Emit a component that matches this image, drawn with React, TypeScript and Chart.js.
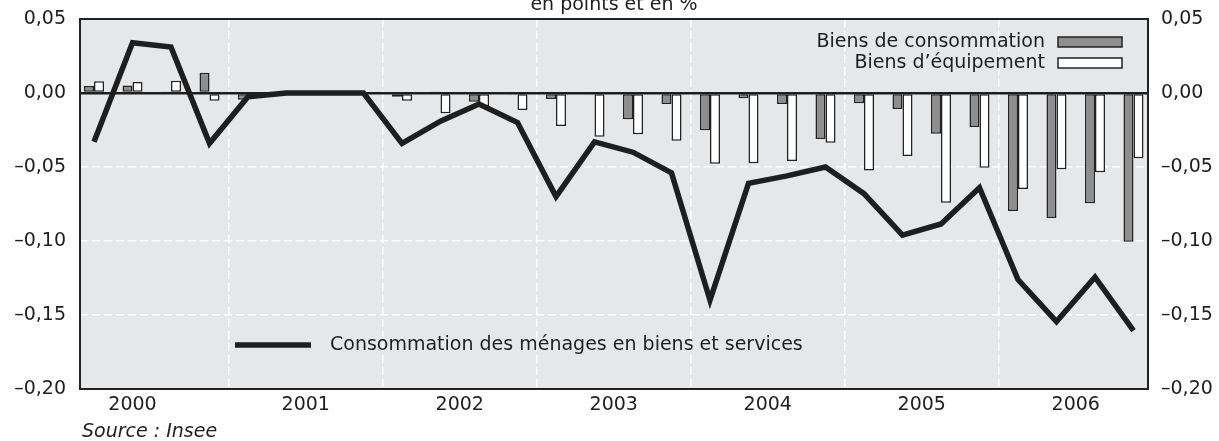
import React, { useEffect, useRef } from "react";
import { Chart, registerables } from "chart.js";

Chart.register(...registerables);

// ---------- data ----------
const quarters = [
  "2000T1", "2000T2", "2000T3", "2000T4",
  "2001T1", "2001T2", "2001T3", "2001T4",
  "2002T1", "2002T2", "2002T3", "2002T4",
  "2003T1", "2003T2", "2003T3", "2003T4",
  "2004T1", "2004T2", "2004T3", "2004T4",
  "2005T1", "2005T2", "2005T3", "2005T4",
  "2006T1", "2006T2", "2006T3", "2006T4",
];

const biensConsommation = [
  0.0047, 0.005, 0.001, 0.0137,
  -0.0045, 0, 0, 0,
  -0.0025, 0.001, -0.0059, -0.001,
  -0.004, -0.001, -0.0178, -0.0074,
  -0.0252, -0.0036, -0.0074, -0.031,
  -0.007, -0.0108, -0.0275, -0.023,
  -0.0797, -0.0845, -0.0745, -0.1005,
];

const biensEquipement = [
  0.0079, 0.0074, 0.0083, -0.0052,
  -0.003, 0, 0, 0,
  -0.0052, -0.0137, -0.0092, -0.0115,
  -0.0223, -0.0295, -0.0279, -0.0322,
  -0.0478, -0.0475, -0.046, -0.0336,
  -0.0523, -0.0426, -0.0741, -0.0505,
  -0.0649, -0.0516, -0.0536, -0.0441,
];

const consommationMenages = [
  -0.033, 0.034, 0.031, -0.034,
  -0.0025, 0, 0, 0,
  -0.034, -0.019, -0.0075, -0.02,
  -0.07, -0.033, -0.04, -0.054,
  -0.14, -0.061, -0.056, -0.05,
  -0.068, -0.096, -0.0885, -0.064,
  -0.126, -0.1545, -0.1245, -0.1606,
];

const yearLabels = ["2000", "2001", "2002", "2003", "2004", "2005", "2006"];
const yearLabelPositions = [1, 5.5, 9.5, 13.5, 17.5, 21.5, 25.5];
const yearBoundaries = [3.5, 7.5, 11.5, 15.5, 19.5, 23.5];

const seriesLabels = [
  "Biens de consommation",
  "Biens d\u2019\u00e9quipement",
  "Consommation des m\u00e9nages en biens et services",
];
const titleText = "en points et en %";
const sourceText = "Source : Insee";

// ---------- styles ----------
const FONT = '"DejaVu Sans", "Liberation Sans", sans-serif';
const FS = 19;
const TEXT = "#1e1e1e";
const GRAY = "#8e8e8e";
const BG = "#e6e7e9";

const fmt = (v: number) => {
  const r = Math.round(v * 100) / 100;
  const s = Math.abs(r).toFixed(2).replace(".", ",");
  return r < -1e-9 ? "\u2013" + s : s;
};

const decorPlugin = {
  id: "decor",
  beforeDraw(chart: any) {
    const { ctx, chartArea: a } = chart;
    ctx.save();
    ctx.fillStyle = "#fff";
    ctx.fillRect(0, 0, chart.width, chart.height);
    ctx.fillStyle = BG;
    ctx.fillRect(a.left, a.top, a.right - a.left, a.bottom - a.top);
    ctx.restore();
  },
  afterDatasetsDraw(chart: any) {
    const { ctx, chartArea: a } = chart;
    ctx.save();
    // frame
    ctx.strokeStyle = "#222";
    ctx.lineWidth = 2;
    ctx.strokeRect(a.left, a.top, a.right - a.left, a.bottom - a.top);

    // legend (bars)
    ctx.font = `${FS}px ${FONT}`;
    ctx.fillStyle = TEXT;
    ctx.textAlign = "right";
    ctx.textBaseline = "middle";
    ctx.fillText(seriesLabels[0], 1045, 42);
    ctx.fillText(seriesLabels[1], 1045, 63);
    ctx.lineWidth = 1.5;
    ctx.strokeStyle = "#222";
    ctx.fillStyle = GRAY;
    ctx.fillRect(1058, 37, 64, 10);
    ctx.strokeRect(1058, 37, 64, 10);
    ctx.fillStyle = "#fff";
    ctx.fillRect(1058, 58, 64, 10);
    ctx.strokeRect(1058, 58, 64, 10);

    // legend (line)
    ctx.strokeStyle = "#1e1e1e";
    ctx.lineWidth = 5.5;
    ctx.beginPath();
    ctx.moveTo(235, 345);
    ctx.lineTo(311, 345);
    ctx.stroke();
    ctx.fillStyle = TEXT;
    ctx.textAlign = "left";
    ctx.fillText(seriesLabels[2], 330, 345);
    ctx.restore();
  },
  afterDraw(chart: any) {
    const { ctx } = chart;
    ctx.save();
    ctx.fillStyle = TEXT;
    ctx.font = `${FS}px ${FONT}`;
    ctx.textAlign = "center";
    ctx.textBaseline = "alphabetic";
    ctx.fillText(titleText, 614, 10);
    ctx.font = `italic ${FS}px ${FONT}`;
    ctx.textAlign = "left";
    ctx.fillText(sourceText, 82, 437);
    ctx.restore();
  },
};

export default function App() {
  const ref = useRef<HTMLCanvasElement | null>(null);

  useEffect(() => {
    if (!ref.current) return;
    const xs = quarters.map((_, i) => i);
    const chart = new Chart(ref.current, {
      type: "bar",
      data: {
        datasets: [
          {
            type: "line",
            label: seriesLabels[2],
            data: xs.map((x, i) => ({ x, y: consommationMenages[i] })),
            borderColor: "#1e1e1e",
            borderWidth: 5.5,
            pointRadius: 0,
            tension: 0,
            borderJoinStyle: "miter",
            order: 0,
          } as any,
          {
            type: "bar",
            label: seriesLabels[0],
            data: xs.map((x, i) => ({ x, y: biensConsommation[i] })),
            backgroundColor: GRAY,
            borderColor: "#222",
            borderWidth: 1.5,
            borderSkipped: false,
            categoryPercentage: 0.52,
            barPercentage: 1,
            order: 1,
          } as any,
          {
            type: "bar",
            label: seriesLabels[1],
            data: xs.map((x, i) => ({ x, y: biensEquipement[i] })),
            backgroundColor: "#ffffff",
            borderColor: "#222",
            borderWidth: 1.5,
            borderSkipped: false,
            categoryPercentage: 0.52,
            barPercentage: 1,
            order: 1,
          } as any,
        ],
      },
      options: {
        animation: false,
        responsive: true,
        maintainAspectRatio: false,
        devicePixelRatio: 1,
        layout: { padding: { top: 19, left: 0, right: 0, bottom: 0 } },
        plugins: {
          legend: { display: false },
          tooltip: { enabled: false },
          title: { display: false },
        },
        scales: {
          x: {
            type: "linear",
            position: "bottom",
            offset: false,
            min: -0.364,
            max: 27.377,
            afterBuildTicks: (axis: any) => {
              axis.ticks = [...yearBoundaries, ...yearLabelPositions]
                .sort((a, b) => a - b)
                .map((value) => ({ value }));
            },
            afterFit: (scale: any) => {
              scale.height = 52;
              scale.paddingLeft = 0;
              scale.paddingRight = 0;
            },
            ticks: {
              autoSkip: false,
              maxRotation: 0,
              minRotation: 0,
              padding: 5,
              color: TEXT,
              font: { family: FONT, size: FS },
              callback: (value: any) => {
                const i = yearLabelPositions.indexOf(Number(value));
                return i >= 0 ? yearLabels[i] : "";
              },
            },
            grid: {
              offset: false,
              drawTicks: false,
              lineWidth: 1.5,
              color: (c: any) =>
                c.tick && yearBoundaries.includes(c.tick.value) ? "#ffffff" : "rgba(0,0,0,0)",
            },
            border: { display: false, dash: [8, 4] },
          },
          y: {
            type: "linear",
            position: "left",
            min: -0.2,
            max: 0.05,
            afterFit: (scale: any) => {
              scale.width = 80;
              scale.paddingTop = 0;
              scale.paddingBottom = 0;
            },
            ticks: {
              stepSize: 0.05,
              padding: 14,
              color: TEXT,
              font: { family: FONT, size: FS },
              callback: (v: any) => fmt(Number(v)),
            },
            grid: {
              drawTicks: false,
              lineWidth: (c: any) => (c.tick && Math.abs(c.tick.value) < 1e-9 ? 2.5 : 1.5),
              color: (c: any) => (c.tick && Math.abs(c.tick.value) < 1e-9 ? "#1e1e1e" : "#ffffff"),
            },
            border: {
              display: false,
              dash: (c: any) => (c.tick && Math.abs(c.tick.value) < 1e-9 ? [] : [8, 4]),
            } as any,
          },
          y2: {
            type: "linear",
            position: "right",
            min: -0.2,
            max: 0.05,
            afterFit: (scale: any) => {
              scale.width = 71;
              scale.paddingTop = 0;
              scale.paddingBottom = 0;
            },
            ticks: {
              stepSize: 0.05,
              padding: 13,
              color: TEXT,
              font: { family: FONT, size: FS },
              callback: (v: any) => fmt(Number(v)),
            },
            grid: { display: false, drawTicks: false },
            border: { display: false },
          },
        },
      } as any,
      plugins: [decorPlugin],
    });
    return () => chart.destroy();
  }, []);

  return (
    <div
      style={{
        position: "absolute",
        left: 0,
        top: 0,
        width: 1219,
        height: 441,
        background: "#fff",
      }}
    >
      <canvas ref={ref} />
    </div>
  );
}
